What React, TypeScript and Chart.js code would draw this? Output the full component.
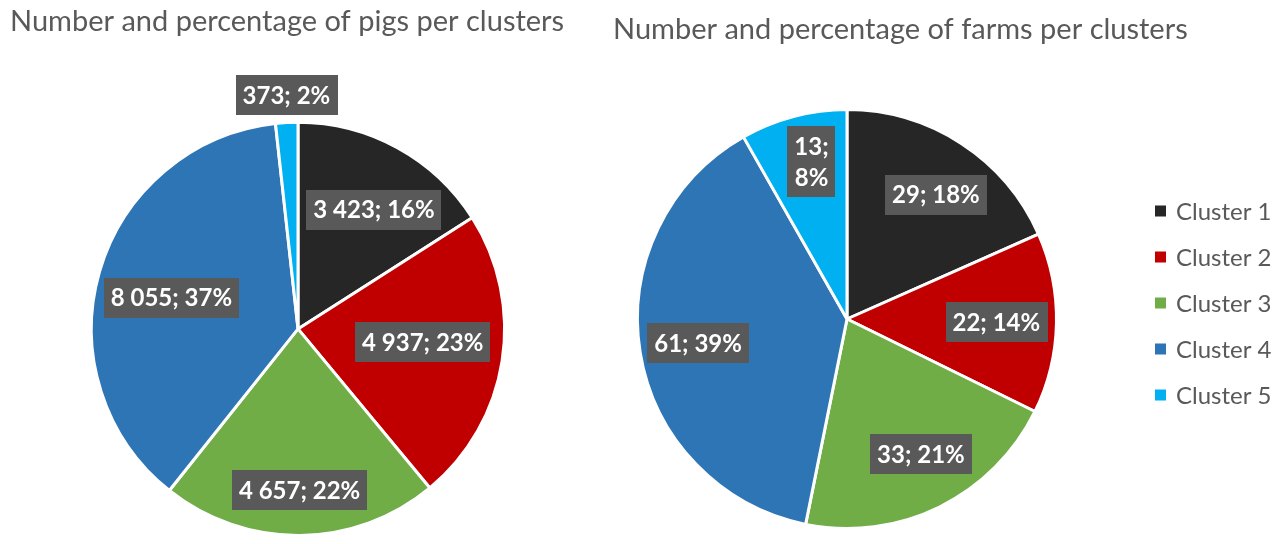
import React, { useEffect, useRef } from "react";
import { Chart, registerables } from "chart.js";

Chart.register(...registerables);

// ---- data ----
const clusters = ["Cluster 1", "Cluster 2", "Cluster 3", "Cluster 4", "Cluster 5"];
const pigCounts = [3423, 4937, 4657, 8055, 373];
const pigPercents = [16, 23, 22, 37, 2];
const farmCounts = [29, 22, 33, 61, 13];
const farmPercents = [18, 14, 21, 39, 8];
const clusterColors = ["#262626", "#C00000", "#70AD47", "#2E75B6", "#00B0F0"];
const pigsTitle = "Number and percentage of pigs per clusters";
const farmsTitle = "Number and percentage of farms per clusters";

const FONT = "Lato, 'Open Sans', sans-serif";

type LabelLayout = { radius: number[]; shift: number[]; wrap: boolean[] };

const pigsLabelLayout: LabelLayout = {
  radius: [0.684, 0.607, 0.781, 0.631, 1.134],
  shift: [3.8, -3.0, 0, -2.3, 0.3],
  wrap: [false, false, false, false, false],
};
const farmsLabelLayout: LabelLayout = {
  radius: [0.73, 0.713, 0.735, 0.72, 0.77],
  shift: [2.5, 0, -2.5, 0, 2.1],
  wrap: [false, false, false, false, true],
};

function fmt(n: number): string {
  return String(n).replace(/\B(?=(\d{3})+(?!\d))/g, " ");
}

function makeLabelPlugin(id: string, percents: number[], layout: LabelLayout) {
  return {
    id,
    afterDatasetsDraw(chart: any) {
      const ctx = chart.ctx as CanvasRenderingContext2D;
      const meta = chart.getDatasetMeta(0);
      const values = chart.data.datasets[0].data as number[];
      ctx.save();
      ctx.font = `bold 24px ${FONT}`;
      ctx.textAlign = "center";
      ctx.textBaseline = "middle";
      meta.data.forEach((arc: any, i: number) => {
        const { x, y, startAngle, endAngle, outerRadius } = arc.getProps(
          ["x", "y", "startAngle", "endAngle", "outerRadius"],
          true
        );
        const mid = (startAngle + endAngle) / 2 + (layout.shift[i] * Math.PI) / 180;
        const r = outerRadius * layout.radius[i];
        const cx = x + Math.cos(mid) * r;
        const cy = y + Math.sin(mid) * r;
        const parts = [fmt(values[i]) + ";", percents[i] + "%"];
        const lines = layout.wrap[i] ? parts : [parts.join(" ")];
        const lineH = 31;
        const w = Math.max(...lines.map((l) => ctx.measureText(l).width)) + 14;
        const h = lines.length * lineH + 9;
        ctx.fillStyle = "#595959";
        ctx.fillRect(Math.round(cx - w / 2), Math.round(cy - h / 2), Math.round(w), Math.round(h));
        ctx.fillStyle = "#FFFFFF";
        lines.forEach((l, k) =>
          ctx.fillText(l, cx, cy - ((lines.length - 1) * lineH) / 2 + k * lineH + 1)
        );
      });
      ctx.restore();
    },
  };
}

// Title + legend for the farms chart (the title is wider than the pie's own box)
const farmsDecorPlugin = {
  id: "farmsDecor",
  afterDraw(chart: any) {
    const ctx = chart.ctx as CanvasRenderingContext2D;
    const labels = chart.data.labels as string[];
    const colors = chart.data.datasets[0].backgroundColor as string[];
    ctx.save();
    ctx.font = `29px ${FONT}`;
    ctx.textAlign = "left";
    ctx.textBaseline = "middle";
    ctx.fillStyle = "#595959";
    ctx.fillText(farmsTitle, 13, 30);

    ctx.font = `24px ${FONT}`;
    labels.forEach((lab, i) => {
      const y = 211 + i * 46;
      ctx.fillStyle = colors[i];
      ctx.fillRect(555, y - 5.5, 11, 11);
      ctx.fillStyle = "#595959";
      ctx.fillText(lab, 576, y + 1);
    });
    ctx.restore();
  },
};

function makeConfig(
  values: number[],
  title: string | null,
  padding: any,
  titlePadding: any,
  extraPlugins: any[]
): any {
  return {
    type: "pie",
    data: {
      labels: clusters,
      datasets: [
        {
          data: values,
          backgroundColor: clusterColors,
          borderColor: "#FFFFFF",
          borderWidth: 3,
        },
      ],
    },
    options: {
      responsive: false,
      animation: false,
      devicePixelRatio: 1,
      layout: { padding },
      plugins: {
        legend: { display: false },
        tooltip: { enabled: false },
        title: {
          display: !!title,
          text: title || "",
          align: "start",
          color: "#595959",
          font: { family: FONT, size: 29, weight: "normal", lineHeight: 1.2 },
          padding: titlePadding,
        },
      },
    },
    plugins: extraPlugins,
  };
}

export default function App() {
  const ref1 = useRef<HTMLCanvasElement>(null);
  const ref2 = useRef<HTMLCanvasElement>(null);

  useEffect(() => {
    const c1 = new Chart(
      ref1.current as HTMLCanvasElement,
      makeConfig(
        pigCounts,
        pigsTitle,
        { left: 10, right: 34, top: 0, bottom: 7 },
        { top: 4.6, bottom: 81.4 },
        [makeLabelPlugin("pigLabels", pigPercents, pigsLabelLayout)]
      )
    );
    const c2 = new Chart(
      ref2.current as HTMLCanvasElement,
      makeConfig(
        farmCounts,
        null,
        { left: 13, right: 199, top: 108, bottom: 14 },
        { top: 0, bottom: 0 },
        [makeLabelPlugin("farmLabels", farmPercents, farmsLabelLayout), farmsDecorPlugin]
      )
    );
    return () => {
      c1.destroy();
      c2.destroy();
    };
  }, []);

  return (
    <div
      style={{
        position: "absolute",
        left: 0,
        top: 0,
        width: 1280,
        height: 544,
        background: "#FFFFFF",
        overflow: "hidden",
      }}
    >
      <canvas
        ref={ref1}
        width={620}
        height={544}
        style={{ position: "absolute", left: 0, top: 0, width: 620, height: 544 }}
      />
      <canvas
        ref={ref2}
        width={680}
        height={544}
        style={{ position: "absolute", left: 600, top: 0, width: 680, height: 544 }}
      />
    </div>
  );
}
